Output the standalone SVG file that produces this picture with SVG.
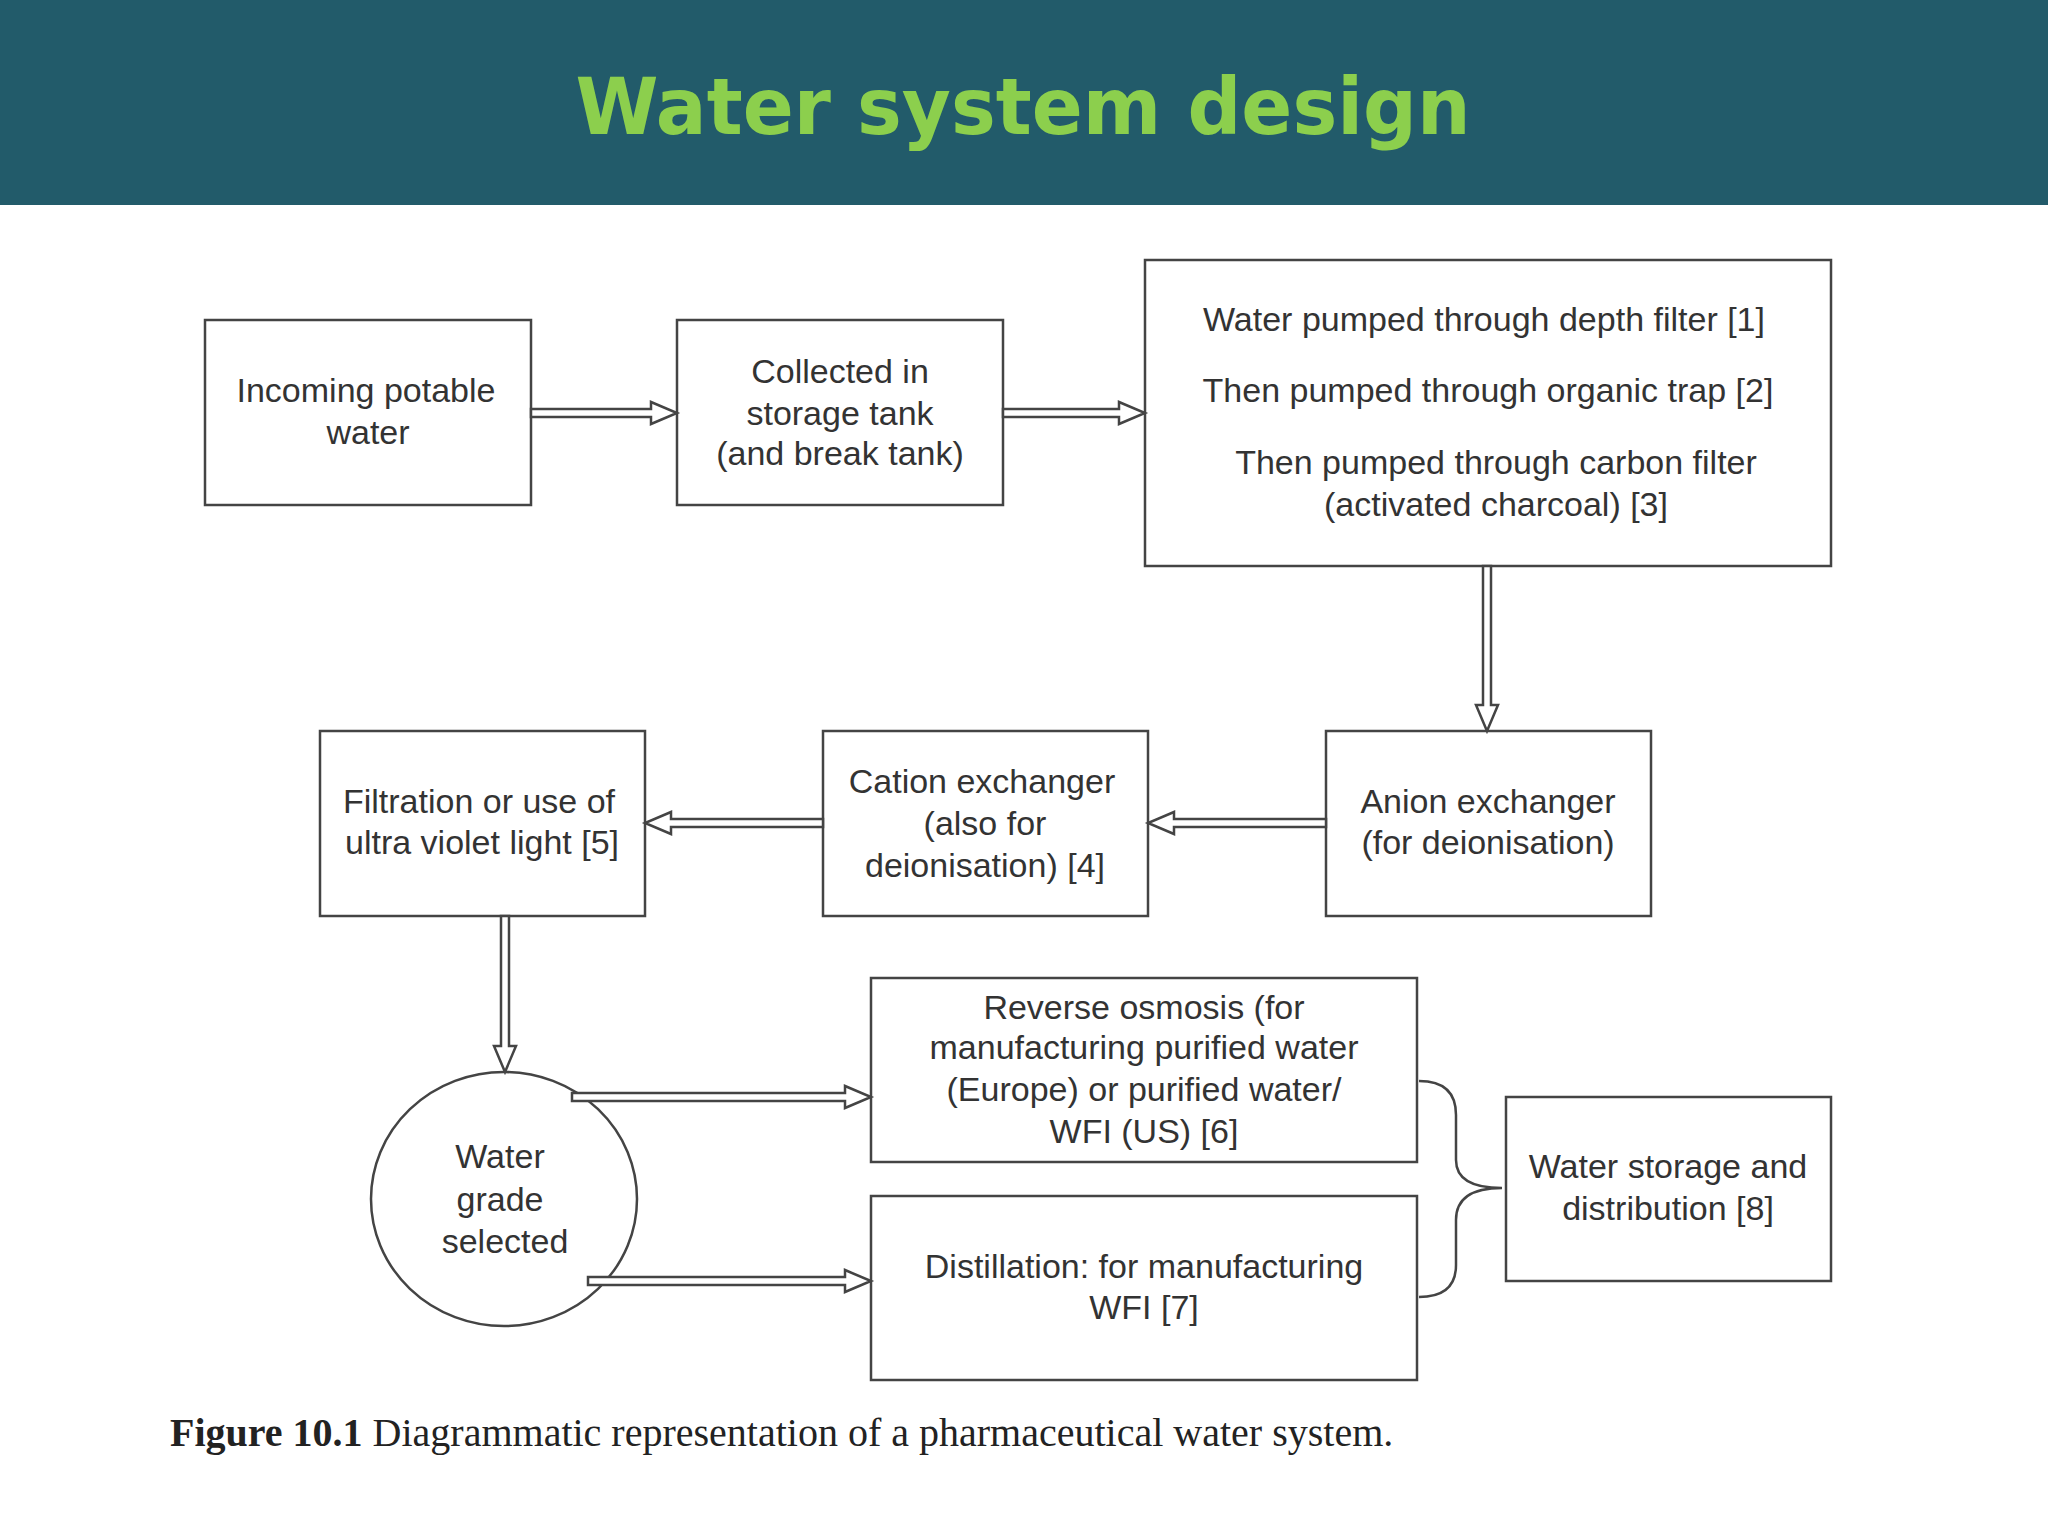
<svg xmlns="http://www.w3.org/2000/svg" width="2048" height="1536" viewBox="0 0 2048 1536">
<style>
.box{fill:#fff;stroke:#444;stroke-width:2.5}
.arr{fill:#fff;stroke:#444;stroke-width:2.5;stroke-linejoin:miter}
.t{font-family:"Liberation Sans",Arial,sans-serif;font-size:34px;fill:#333;text-anchor:middle}
</style>
<rect x="0" y="0" width="2048" height="2048" fill="#fff"/>
<rect x="0" y="0" width="2048" height="205" fill="#225b6a"/>
<text x="1023" y="134" font-family="'DejaVu Sans',Verdana,sans-serif" font-weight="bold" font-size="78" fill="#8ccf4d" text-anchor="middle" textLength="895" lengthAdjust="spacingAndGlyphs">Water system design</text>
<g id="n1"><rect class="box" x="205" y="320" width="326" height="185"/><text class="t" x="366" y="402">Incoming potable</text><text class="t" x="368" y="444">water</text></g>
<g id="n2"><rect class="box" x="677" y="320" width="326" height="185"/><text class="t" x="840" y="383">Collected in</text><text class="t" x="840" y="425">storage tank</text><text class="t" x="840" y="465">(and break tank)</text></g>
<g id="n3"><rect class="box" x="1145" y="260" width="686" height="306"/><text class="t" x="1484" y="331">Water pumped through depth filter [1]</text><text class="t" x="1488" y="402">Then pumped through organic trap [2]</text><text class="t" x="1496" y="474">Then pumped through carbon filter</text><text class="t" x="1496" y="516">(activated charcoal) [3]</text></g>
<g id="n4"><rect class="box" x="1326" y="731" width="325" height="185"/><text class="t" x="1488" y="813">Anion exchanger</text><text class="t" x="1488" y="854">(for deionisation)</text></g>
<g id="n5"><rect class="box" x="823" y="731" width="325" height="185"/><text class="t" x="982" y="793">Cation exchanger</text><text class="t" x="985" y="835">(also for</text><text class="t" x="985" y="877">deionisation) [4]</text></g>
<g id="n6"><rect class="box" x="320" y="731" width="325" height="185"/><text class="t" x="479" y="813">Filtration or use of</text><text class="t" x="482" y="854">ultra violet light [5]</text></g>
<g id="n7"><ellipse class="box" cx="504" cy="1199" rx="133" ry="127"/><text class="t" x="500" y="1168">Water</text><text class="t" x="500" y="1211">grade</text><text class="t" x="505" y="1253">selected</text></g>
<g id="n8"><rect class="box" x="871" y="978" width="546" height="184"/><text class="t" x="1144" y="1019">Reverse osmosis (for</text><text class="t" x="1144" y="1059">manufacturing purified water</text><text class="t" x="1144" y="1101">(Europe) or purified water/</text><text class="t" x="1144" y="1143">WFI (US) [6]</text></g>
<g id="n9"><rect class="box" x="871" y="1196" width="546" height="184"/><text class="t" x="1144" y="1278">Distillation: for manufacturing</text><text class="t" x="1144" y="1319">WFI [7]</text></g>
<g id="n10"><rect class="box" x="1506" y="1097" width="325" height="184"/><text class="t" x="1668" y="1178">Water storage and</text><text class="t" x="1668" y="1220">distribution [8]</text></g>
<g id="connectors">
<polygon class="arr" points="531,409 651,409 651,402 677,413 651,424 651,417 531,417"/>
<polygon class="arr" points="1003,409 1119,409 1119,402 1145,413 1119,424 1119,417 1003,417"/>
<polygon class="arr" points="1483,566 1483,705 1476,705 1487,731 1498,705 1491,705 1491,566"/>
<polygon class="arr" points="1326,819 1174,819 1174,812 1148,823 1174,834 1174,827 1326,827"/>
<polygon class="arr" points="823,819 671,819 671,812 645,823 671,834 671,827 823,827"/>
<polygon class="arr" points="501,916 501,1046 494,1046 505,1072 516,1046 509,1046 509,916"/>
<polygon class="arr" points="572,1093 845,1093 845,1086 871,1097 845,1108 845,1101 572,1101"/>
<polygon class="arr" points="588,1277 845,1277 845,1270 871,1281 845,1292 845,1285 588,1285"/>
<path d="M1419,1081 Q1456,1081 1456,1115 L1456,1160 Q1456,1188 1502,1188 Q1456,1188 1456,1220 L1456,1265 Q1456,1297 1419,1297" fill="none" stroke="#444" stroke-width="2.5"/>
</g>
<text x="170" y="1446" font-family="'Liberation Serif','Times New Roman',serif" font-size="40" fill="#222"><tspan font-weight="bold">Figure 10.1</tspan>  Diagrammatic representation of a pharmaceutical water system.</text>
</svg>
